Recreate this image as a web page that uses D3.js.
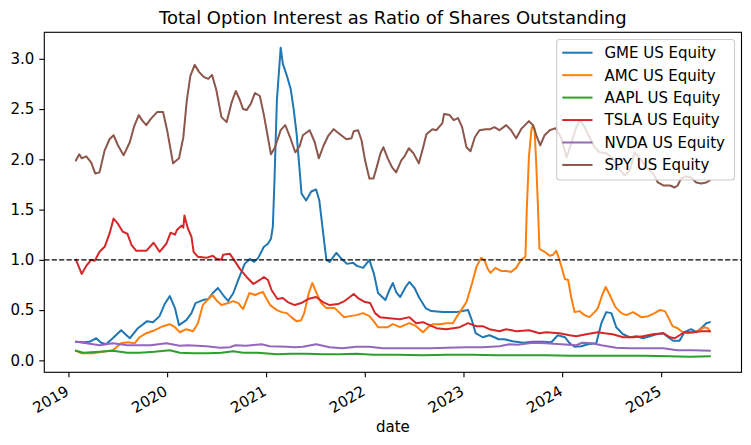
<!DOCTYPE html>
<html><head><meta charset="utf-8">
<script src="https://cdn.jsdelivr.net/npm/d3@7"></script>
<style>
body{margin:0;background:#fff}
svg{display:block;font-family:"DejaVu Sans",sans-serif}
</style>
</head><body>
<svg id="chart" width="751" height="445"></svg>
<script>
const chartTitle = "Total Option Interest as Ratio of Shares Outstanding";
const xLabel = "date";
const seriesNames = ["GME US Equity","AMC US Equity","AAPL US Equity","TSLA US Equity","NVDA US Equity","SPY US Equity"];
const seriesColors = ["#1f77b4","#ff7f0e","#2ca02c","#d62728","#9467bd","#8c564b"];
const yTicks = [0,0.5,1,1.5,2,2.5,3];
const xTickYears = [2019,2020,2021,2022,2023,2024,2025];
const refLine = 1.0;

const gme = [["2019-01-29",0.185],["2019-02-25",0.18],["2019-03-20",0.185],["2019-04-14",0.22],["2019-05-02",0.175],["2019-05-20",0.16],["2019-06-14",0.22],["2019-07-15",0.30],["2019-08-16",0.22],["2019-09-15",0.32],["2019-10-19",0.39],["2019-11-10",0.38],["2019-12-04",0.44],["2019-12-23",0.56],["2020-01-11",0.64],["2020-01-30",0.52],["2020-02-14",0.35],["2020-03-12",0.40],["2020-03-31",0.47],["2020-04-15",0.57],["2020-05-12",0.60],["2020-06-01",0.61],["2020-06-18",0.67],["2020-07-07",0.72],["2020-07-26",0.65],["2020-08-14",0.59],["2020-09-02",0.67],["2020-09-20",0.80],["2020-10-14",0.96],["2020-11-02",1.01],["2020-11-18",0.98],["2020-12-03",1.02],["2020-12-24",1.13],["2021-01-08",1.16],["2021-01-19",1.21],["2021-01-26",1.33],["2021-02-01",1.79],["2021-02-10",2.59],["2021-02-24",3.11],["2021-03-04",2.95],["2021-03-19",2.83],["2021-04-02",2.70],["2021-04-13",2.50],["2021-04-24",2.25],["2021-05-03",1.96],["2021-05-12",1.66],["2021-05-29",1.59],["2021-06-17",1.68],["2021-07-05",1.70],["2021-07-17",1.59],["2021-07-30",1.29],["2021-08-12",1.00],["2021-08-24",0.98],["2021-09-18",1.07],["2021-10-07",1.01],["2021-10-27",0.96],["2021-11-19",0.97],["2021-12-03",0.94],["2021-12-26",0.92],["2022-01-18",1.00],["2022-02-04",0.86],["2022-02-19",0.67],["2022-03-18",0.60],["2022-04-02",0.70],["2022-04-15",0.77],["2022-04-27",0.68],["2022-05-12",0.63],["2022-06-01",0.73],["2022-06-15",0.78],["2022-07-04",0.72],["2022-07-22",0.62],["2022-08-14",0.52],["2022-09-04",0.49],["2022-10-17",0.48],["2022-12-06",0.48],["2023-01-18",0.50],["2023-02-01",0.40],["2023-02-15",0.27],["2023-03-13",0.23],["2023-04-07",0.25],["2023-04-25",0.23],["2023-05-11",0.21],["2023-06-02",0.21],["2023-07-02",0.19],["2023-08-09",0.175],["2023-09-15",0.185],["2023-10-22",0.185],["2023-11-22",0.18],["2023-12-16",0.25],["2024-01-11",0.23],["2024-01-29",0.17],["2024-02-16",0.135],["2024-03-12",0.14],["2024-04-05",0.16],["2024-05-06",0.17],["2024-05-25",0.37],["2024-06-12",0.48],["2024-07-01",0.47],["2024-07-19",0.33],["2024-08-13",0.26],["2024-09-07",0.23],["2024-10-02",0.24],["2024-10-26",0.22],["2024-11-20",0.24],["2024-12-15",0.26],["2025-01-09",0.27],["2025-01-27",0.23],["2025-02-14",0.195],["2025-03-10",0.195],["2025-03-28",0.28],["2025-04-22",0.31],["2025-05-11",0.28],["2025-05-29",0.32],["2025-06-17",0.37],["2025-06-30",0.38]];

const amc = [["2019-01-29",0.095],["2019-02-19",0.07],["2019-04-01",0.07],["2019-05-08",0.085],["2019-06-14",0.10],["2019-07-15",0.17],["2019-08-09",0.18],["2019-09-03",0.17],["2019-09-21",0.23],["2019-10-16",0.27],["2019-11-16",0.30],["2019-12-17",0.34],["2020-01-11",0.36],["2020-01-30",0.33],["2020-02-17",0.28],["2020-03-12",0.31],["2020-04-06",0.29],["2020-04-24",0.37],["2020-05-12",0.55],["2020-05-25",0.59],["2020-06-17",0.65],["2020-07-04",0.59],["2020-07-20",0.55],["2020-08-14",0.57],["2020-09-02",0.59],["2020-09-20",0.57],["2020-10-08",0.51],["2020-10-31",0.67],["2020-11-21",0.65],["2020-12-09",0.67],["2020-12-21",0.68],["2020-12-28",0.64],["2021-01-16",0.55],["2021-02-10",0.50],["2021-02-28",0.48],["2021-03-19",0.47],["2021-04-04",0.43],["2021-04-23",0.39],["2021-05-11",0.40],["2021-05-22",0.47],["2021-06-08",0.67],["2021-06-21",0.77],["2021-07-05",0.68],["2021-07-24",0.57],["2021-08-12",0.52],["2021-09-12",0.52],["2021-10-01",0.47],["2021-10-16",0.43],["2021-11-07",0.44],["2021-12-01",0.45],["2021-12-26",0.47],["2022-01-18",0.44],["2022-01-31",0.40],["2022-02-19",0.33],["2022-03-08",0.33],["2022-03-27",0.33],["2022-04-15",0.36],["2022-05-11",0.33],["2022-05-28",0.35],["2022-06-15",0.37],["2022-07-10",0.34],["2022-08-04",0.28],["2022-08-23",0.33],["2022-09-10",0.36],["2022-10-05",0.36],["2022-10-30",0.37],["2022-11-23",0.37],["2022-12-06",0.43],["2022-12-24",0.50],["2023-01-12",0.58],["2023-02-01",0.76],["2023-02-18",0.93],["2023-03-07",1.02],["2023-03-19",1.00],["2023-04-01",0.91],["2023-04-11",0.87],["2023-04-29",0.92],["2023-05-20",0.89],["2023-06-08",0.89],["2023-06-26",0.88],["2023-07-15",0.92],["2023-08-02",1.00],["2023-08-18",1.03],["2023-08-23",1.49],["2023-08-31",2.02],["2023-09-09",2.29],["2023-09-15",2.34],["2023-09-21",2.30],["2023-09-27",1.96],["2023-10-03",1.56],["2023-10-09",1.11],["2023-10-28",1.08],["2023-11-16",1.04],["2023-11-28",1.05],["2023-12-10",1.09],["2023-12-22",1.00],["2024-01-11",0.81],["2024-01-23",0.80],["2024-02-04",0.62],["2024-02-16",0.48],["2024-03-05",0.49],["2024-03-24",0.45],["2024-04-11",0.43],["2024-04-30",0.48],["2024-05-12",0.52],["2024-05-28",0.65],["2024-06-10",0.73],["2024-06-25",0.65],["2024-07-16",0.53],["2024-08-07",0.47],["2024-08-25",0.45],["2024-09-19",0.48],["2024-10-20",0.43],["2024-11-14",0.44],["2024-12-08",0.47],["2024-12-27",0.50],["2025-01-15",0.49],["2025-01-27",0.43],["2025-02-12",0.34],["2025-03-03",0.32],["2025-03-22",0.28],["2025-04-10",0.27],["2025-05-04",0.28],["2025-05-23",0.30],["2025-06-10",0.33],["2025-06-23",0.32],["2025-06-30",0.29]];

const aapl = [["2019-01-29",0.095],["2019-02-25",0.075],["2019-04-26",0.085],["2019-06-14",0.095],["2019-08-07",0.075],["2019-09-21",0.075],["2019-11-15",0.085],["2020-01-11",0.10],["2020-02-17",0.075],["2020-04-06",0.07],["2020-06-01",0.07],["2020-07-20",0.075],["2020-09-02",0.09],["2020-10-08",0.075],["2020-12-01",0.075],["2021-02-10",0.06],["2021-04-01",0.065],["2021-06-01",0.065],["2021-08-01",0.06],["2021-10-01",0.06],["2021-12-01",0.065],["2022-02-01",0.055],["2022-05-01",0.055],["2022-08-01",0.05],["2022-11-01",0.055],["2023-02-01",0.055],["2023-05-01",0.05],["2023-08-01",0.05],["2023-11-01",0.05],["2024-02-01",0.045],["2024-05-01",0.045],["2024-08-01",0.045],["2024-11-01",0.045],["2025-02-01",0.04],["2025-04-15",0.035],["2025-06-30",0.04]];

const tsla = [["2019-01-29",1.00],["2019-02-19",0.86],["2019-03-08",0.94],["2019-03-26",1.00],["2019-04-08",0.99],["2019-04-26",1.08],["2019-05-15",1.13],["2019-06-02",1.26],["2019-06-17",1.41],["2019-07-03",1.36],["2019-07-21",1.28],["2019-08-07",1.26],["2019-08-22",1.15],["2019-09-09",1.09],["2019-10-16",1.09],["2019-11-12",1.17],["2019-12-04",1.08],["2019-12-29",1.16],["2020-01-14",1.27],["2020-01-30",1.25],["2020-02-07",1.30],["2020-02-23",1.34],["2020-03-01",1.32],["2020-03-05",1.44],["2020-03-18",1.31],["2020-03-31",1.23],["2020-04-08",1.08],["2020-04-24",1.03],["2020-05-25",1.02],["2020-06-18",1.04],["2020-07-01",1.01],["2020-07-20",1.00],["2020-07-26",1.05],["2020-08-20",1.06],["2020-09-02",1.01],["2020-09-26",0.91],["2020-10-21",0.83],["2020-11-15",0.76],["2020-12-09",0.80],["2020-12-24",0.83],["2021-01-08",0.80],["2021-01-21",0.70],["2021-02-12",0.61],["2021-03-04",0.62],["2021-03-22",0.58],["2021-04-17",0.55],["2021-05-11",0.57],["2021-06-05",0.61],["2021-07-05",0.63],["2021-07-30",0.58],["2021-08-24",0.55],["2021-09-24",0.56],["2021-10-18",0.59],["2021-11-07",0.63],["2021-11-21",0.66],["2021-12-07",0.62],["2022-01-02",0.58],["2022-01-21",0.57],["2022-02-08",0.47],["2022-02-26",0.43],["2022-04-02",0.42],["2022-05-11",0.41],["2022-06-15",0.43],["2022-07-10",0.37],["2022-08-04",0.38],["2022-08-29",0.35],["2022-09-23",0.32],["2022-10-30",0.31],["2022-12-18",0.33],["2023-01-18",0.37],["2023-02-18",0.34],["2023-03-13",0.34],["2023-04-07",0.31],["2023-05-14",0.29],["2023-06-08",0.31],["2023-07-15",0.29],["2023-09-01",0.30],["2023-10-09",0.27],["2023-11-02",0.28],["2023-12-22",0.27],["2024-01-29",0.25],["2024-02-22",0.24],["2024-03-30",0.26],["2024-05-12",0.28],["2024-06-06",0.27],["2024-07-06",0.26],["2024-08-13",0.23],["2024-09-19",0.23],["2024-10-26",0.24],["2024-12-02",0.26],["2025-01-09",0.27],["2025-02-03",0.23],["2025-02-20",0.22],["2025-03-10",0.25],["2025-03-28",0.28],["2025-04-28",0.28],["2025-05-29",0.29],["2025-06-30",0.29]];

const nvda = [["2019-01-29",0.185],["2019-03-08",0.17],["2019-04-26",0.15],["2019-06-14",0.17],["2019-08-07",0.15],["2019-09-21",0.15],["2019-11-01",0.15],["2019-12-29",0.17],["2020-02-17",0.145],["2020-03-18",0.15],["2020-05-25",0.14],["2020-07-15",0.125],["2020-08-20",0.13],["2020-09-10",0.15],["2020-10-21",0.145],["2020-12-15",0.16],["2021-01-15",0.14],["2021-03-19",0.135],["2021-04-17",0.13],["2021-05-17",0.135],["2021-07-05",0.16],["2021-08-24",0.13],["2021-10-10",0.12],["2021-12-01",0.135],["2022-01-18",0.135],["2022-03-08",0.12],["2022-06-01",0.12],["2022-09-01",0.12],["2022-11-01",0.125],["2023-01-12",0.13],["2023-03-13",0.13],["2023-05-14",0.14],["2023-06-20",0.16],["2023-07-20",0.155],["2023-09-15",0.175],["2023-11-01",0.17],["2023-12-28",0.16],["2024-02-22",0.15],["2024-03-15",0.175],["2024-04-20",0.17],["2024-05-25",0.15],["2024-07-19",0.125],["2024-09-07",0.12],["2024-11-08",0.12],["2025-01-09",0.12],["2025-03-01",0.10],["2025-04-28",0.10],["2025-06-30",0.095]];

const spy = [["2019-01-29",1.99],["2019-02-10",2.05],["2019-02-19",2.01],["2019-03-08",2.03],["2019-03-26",1.97],["2019-04-10",1.86],["2019-04-26",1.87],["2019-05-15",2.09],["2019-06-02",2.20],["2019-06-17",2.24],["2019-07-03",2.14],["2019-07-24",2.04],["2019-08-16",2.17],["2019-08-31",2.32],["2019-09-18",2.44],["2019-09-30",2.39],["2019-10-16",2.34],["2019-11-01",2.40],["2019-11-25",2.47],["2019-12-17",2.47],["2020-01-01",2.29],["2020-01-23",1.96],["2020-02-14",2.01],["2020-03-01",2.22],["2020-03-14",2.59],["2020-03-27",2.83],["2020-04-12",2.94],["2020-04-28",2.87],["2020-05-15",2.82],["2020-06-01",2.80],["2020-06-15",2.84],["2020-07-01",2.69],["2020-07-20",2.42],["2020-08-08",2.37],["2020-08-27",2.57],["2020-09-11",2.68],["2020-09-26",2.59],["2020-10-08",2.50],["2020-10-21",2.49],["2020-11-05",2.55],["2020-11-21",2.66],["2020-12-09",2.63],["2020-12-24",2.44],["2021-01-19",2.05],["2021-02-03",2.12],["2021-02-24",2.29],["2021-03-13",2.34],["2021-04-01",2.21],["2021-04-19",2.07],["2021-05-05",2.13],["2021-05-17",2.24],["2021-06-11",2.29],["2021-06-30",2.17],["2021-07-15",2.01],["2021-08-02",2.14],["2021-08-18",2.23],["2021-09-08",2.30],["2021-10-01",2.25],["2021-10-25",2.20],["2021-11-13",2.21],["2021-11-21",2.28],["2021-12-07",2.29],["2021-12-20",2.19],["2022-01-02",1.99],["2022-01-18",1.81],["2022-02-02",1.81],["2022-02-14",1.92],["2022-02-28",2.06],["2022-03-11",2.12],["2022-03-27",2.01],["2022-04-12",1.92],["2022-04-27",1.87],["2022-05-16",1.99],["2022-05-28",2.03],["2022-06-13",2.11],["2022-06-30",2.06],["2022-07-20",1.96],["2022-08-04",2.11],["2022-08-17",2.25],["2022-09-08",2.30],["2022-09-23",2.29],["2022-10-15",2.36],["2022-10-21",2.45],["2022-11-11",2.44],["2022-11-26",2.39],["2022-12-12",2.41],["2022-12-27",2.32],["2023-01-12",2.12],["2023-01-27",2.08],["2023-02-12",2.22],["2023-03-01",2.29],["2023-03-25",2.30],["2023-04-10",2.30],["2023-04-25",2.32],["2023-05-14",2.29],["2023-06-08",2.34],["2023-06-26",2.29],["2023-07-15",2.21],["2023-08-02",2.30],["2023-08-31",2.38],["2023-09-15",2.34],["2023-09-30",2.22],["2023-10-12",2.14],["2023-10-28",2.24],["2023-11-16",2.29],["2023-12-08",2.31],["2023-12-29",2.21],["2024-01-17",2.02],["2024-02-04",2.16],["2024-02-22",2.32],["2024-03-08",2.39],["2024-03-24",2.32],["2024-04-11",2.22],["2024-04-30",2.12],["2024-05-18",2.07],["2024-06-12",2.06],["2024-07-06",2.01],["2024-07-25",1.92],["2024-08-19",1.84],["2024-09-07",1.89],["2024-09-25",2.07],["2024-10-14",2.01],["2024-11-08",1.92],["2024-12-02",1.86],["2024-12-20",1.77],["2025-01-09",1.74],["2025-02-03",1.74],["2025-02-20",1.72],["2025-03-03",1.74],["2025-03-16",1.81],["2025-04-04",1.83],["2025-04-22",1.82],["2025-05-11",1.77],["2025-05-29",1.76],["2025-06-17",1.77],["2025-06-30",1.79]];

const seriesData = [gme, amc, aapl, tsla, nvda, spy];

// ---- layout ----
const W = 751, H = 445;
const plot = {left: 44.3, right: 741.5, top: 32.3, bottom: 372.3};
const FS = 15;
const parse = d3.utcParse("%Y-%m-%d");
const parsed = seriesData.map(s => s.map(([d, v]) => ({date: parse(d), value: v})));

const allDates = parsed.flat().map(p => p.date);
const allVals = parsed.flat().map(p => p.value);
const [d0, d1] = d3.extent(allDates);
const dpad = (d1 - d0) * 0.05;
const [v0, v1] = d3.extent(allVals);
const vpad = (v1 - v0) * 0.05;

const x = d3.scaleUtc().domain([new Date(+d0 - dpad), new Date(+d1 + dpad)]).range([plot.left, plot.right]);
const y = d3.scaleLinear().domain([v0 - vpad, v1 + vpad]).range([plot.bottom, plot.top]);

const svg = d3.select("#chart");
svg.append("rect").attr("width", W).attr("height", H).attr("fill", "#fff");

svg.append("defs").append("clipPath").attr("id", "clip")
  .append("rect").attr("x", plot.left).attr("y", plot.top)
  .attr("width", plot.right - plot.left).attr("height", plot.bottom - plot.top);

const line = d3.line().x(d => x(d.date)).y(d => y(d.value));
const gLines = svg.append("g").attr("clip-path", "url(#clip)");
parsed.forEach((s, i) => {
  gLines.append("path").datum(s).attr("d", line)
    .attr("fill", "none").attr("stroke", seriesColors[i])
    .attr("stroke-width", 2).attr("stroke-linejoin", "round").attr("stroke-linecap", "square");
});

// reference line
gLines.append("line")
  .attr("x1", plot.left).attr("x2", plot.right)
  .attr("y1", y(refLine)).attr("y2", y(refLine))
  .attr("stroke", "#000").attr("stroke-width", 1.4).attr("stroke-dasharray", "5.2,2.2");

// axes
const yAxis = d3.axisLeft(y).tickValues(yTicks).tickFormat(d3.format(".1f")).tickSize(5).tickPadding(5);
const gy = svg.append("g").attr("transform", `translate(${plot.left},0)`).call(yAxis);
gy.select(".domain").remove();
gy.selectAll("line").attr("stroke", "#000").attr("stroke-width", 1.1);
gy.selectAll("text").attr("font-size", FS).attr("font-family", "DejaVu Sans").attr("fill", "#000");

const xTicks = xTickYears.map(yr => new Date(Date.UTC(yr, 0, 1)));
const xAxis = d3.axisBottom(x).tickValues(xTicks).tickFormat(d3.utcFormat("%Y")).tickSize(5).tickPadding(5);
const gx = svg.append("g").attr("transform", `translate(0,${plot.bottom})`).call(xAxis);
gx.select(".domain").remove();
gx.selectAll("line").attr("stroke", "#000").attr("stroke-width", 1.1);
gx.selectAll("text")
  .attr("font-size", FS).attr("font-family", "DejaVu Sans").attr("fill", "#000")
  .attr("x", 0).attr("y", 0).attr("dy", null)
  .attr("text-anchor", "end")
  .attr("transform", "translate(1,22) rotate(-30)");

// spines
svg.append("rect").attr("x", plot.left).attr("y", plot.top)
  .attr("width", plot.right - plot.left).attr("height", plot.bottom - plot.top)
  .attr("fill", "none").attr("stroke", "#000").attr("stroke-width", 1.1);

// title
svg.append("text").attr("x", (plot.left + plot.right) / 2).attr("y", 24)
  .attr("text-anchor", "middle").attr("font-size", 18).attr("fill", "#000").text(chartTitle);

// x label
svg.append("text").attr("x", (plot.left + plot.right) / 2).attr("y", 432)
  .attr("text-anchor", "middle").attr("font-size", FS).attr("fill", "#000").text(xLabel);

// legend
const lg = {x: 556.7, y: 39.5, w: 177.8, h: 140.5};
const gl = svg.append("g");
gl.append("rect").attr("x", lg.x).attr("y", lg.y).attr("width", lg.w).attr("height", lg.h)
  .attr("rx", 3).attr("fill", "#fff").attr("fill-opacity", 0.8)
  .attr("stroke", "#cccccc").attr("stroke-width", 1.1);
seriesNames.forEach((name, i) => {
  const cy = 52.7 + i * 22.45;
  gl.append("line").attr("x1", 562.3).attr("x2", 592.5).attr("y1", cy).attr("y2", cy)
    .attr("stroke", seriesColors[i]).attr("stroke-width", 2);
  gl.append("text").attr("x", 604.5).attr("y", cy).attr("dy", "0.36em")
    .attr("font-size", FS).attr("fill", "#000").text(name);
});
</script>
</body></html>
